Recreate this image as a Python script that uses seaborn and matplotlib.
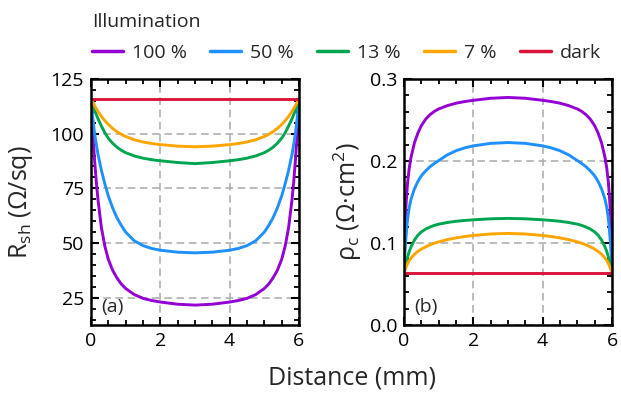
import numpy as np
import pandas as pd
import seaborn as sns
import matplotlib
matplotlib.use("Agg")
import matplotlib.pyplot as plt
from matplotlib.ticker import MultipleLocator, FormatStrFormatter

# ---------------- data ----------------
distance = [0, 0.025, 0.05, 0.1, 0.15, 0.2, 0.3, 0.4, 0.5, 0.625, 0.75, 0.875, 1.0, 1.25, 1.5, 1.75, 2.0, 2.5,
            3.0,
            3.5, 4.0, 4.25, 4.5, 4.75, 5.0, 5.125, 5.25, 5.375, 5.5, 5.6, 5.7, 5.8, 5.85, 5.9, 5.95, 5.975, 6.0]
levels = ["100 %", "50 %", "13 %", "7 %", "dark"]
colors = ["#9400D3", "#1E90FF", "#00A550", "#FFA500", "#DC143C"]

# sheet resistance R_sh (Ohm/sq)
rsh_100 = [116, 107.5, 100.5, 88.5, 78.5, 70, 57, 48.5, 42.5, 37.5, 34, 31.2, 29.2, 26.4, 24.7, 23.7, 23.0, 22.0,
           21.6,
           22.0, 23.0, 23.7, 24.7, 26.4, 29.2, 31.2, 34, 37.5, 42.5, 48.5, 57, 70, 78.5, 88.5, 100.5, 107.5, 116]
rsh_50 = [116, 111.5, 107.5, 100.5, 95.3, 90.7, 83.2, 77, 71.5, 66, 61.5, 58, 55, 51, 48.8, 47.5, 46.7, 45.8,
          45.5,
          45.8, 46.7, 47.5, 48.8, 51, 55, 58, 61.5, 66, 71.5, 77, 83.2, 90.7, 95.3, 100.5, 107.5, 111.5, 116]
rsh_13 = [116, 114.6, 113.3, 110.9, 108.8, 106.9, 103.5, 100.4, 97.9, 95.6, 93.8, 92.4, 91.3, 89.8, 88.8, 88.1, 87.6, 86.8,
          86.3,
          86.8, 87.6, 88.1, 88.8, 89.8, 91.3, 92.4, 93.8, 95.6, 97.9, 100.4, 103.5, 106.9, 108.8, 110.9, 113.3, 114.6, 116]
rsh_7 = [116, 115.2, 114.4, 112.9, 111.5, 110.2, 107.9, 105.9, 104.2, 102.4, 100.9, 99.7, 98.7, 97.2, 96.2, 95.5, 95.0, 94.3,
         94.0,
         94.3, 95.0, 95.5, 96.2, 97.2, 98.7, 99.7, 100.9, 102.4, 104.2, 105.9, 107.9, 110.2, 111.5, 112.9, 114.4, 115.2, 116]
rsh_dark = [116] * 37

# contact resistivity rho_c (Ohm cm^2)
rho_100 = [0.063, 0.118, 0.142, 0.172, 0.191, 0.204, 0.222, 0.234, 0.243, 0.251, 0.2565, 0.2605, 0.2635, 0.2675, 0.2705, 0.2725, 0.274, 0.2765,
           0.2775,
           0.2765, 0.274, 0.2725, 0.2705, 0.2675, 0.2635, 0.2605, 0.2565, 0.251, 0.243, 0.234, 0.222, 0.204, 0.191, 0.172, 0.142, 0.118, 0.063]
rho_50 = [0.063, 0.087, 0.103, 0.128, 0.143, 0.153, 0.166, 0.175, 0.182, 0.188, 0.193, 0.197, 0.2005, 0.2075, 0.2125, 0.216, 0.2185, 0.2215,
          0.2225,
          0.2215, 0.2185, 0.216, 0.2125, 0.2075, 0.2005, 0.197, 0.193, 0.188, 0.182, 0.175, 0.166, 0.153, 0.143, 0.128, 0.103, 0.087, 0.063]
rho_13 = [0.063, 0.069, 0.0735, 0.0825, 0.0895, 0.095, 0.1035, 0.1095, 0.1135, 0.117, 0.1195, 0.1215, 0.123, 0.125, 0.1265, 0.1275, 0.1283, 0.1295,
          0.130,
          0.1295, 0.1283, 0.1275, 0.1265, 0.125, 0.123, 0.1215, 0.1195, 0.117, 0.1135, 0.1095, 0.1035, 0.095, 0.0895, 0.0825, 0.0735, 0.069, 0.063]
rho_7 = [0.063, 0.0665, 0.0695, 0.0745, 0.0785, 0.0815, 0.0862, 0.0898, 0.0925, 0.0953, 0.0977, 0.0997, 0.1014, 0.1041, 0.1062, 0.1079, 0.1092, 0.1110,
         0.1117,
         0.1110, 0.1092, 0.1079, 0.1062, 0.1041, 0.1014, 0.0997, 0.0977, 0.0953, 0.0925, 0.0898, 0.0862, 0.0815, 0.0785, 0.0745, 0.0695, 0.0665, 0.063]
rho_dark = [0.063] * 37

rsh_series = [rsh_100, rsh_50, rsh_13, rsh_7, rsh_dark]
rho_series = [rho_100, rho_50, rho_13, rho_7, rho_dark]

rows = []
for lev, rs, rh in zip(levels, rsh_series, rho_series):
    for d, a, b in zip(distance, rs, rh):
        rows.append({"Distance": d, "Rsh": a, "rho": b, "Illumination": lev})
df = pd.DataFrame(rows)

# ---------------- style ----------------
sns.set_theme(style="ticks")
FONT = "Open Sans"
plt.rcParams["font.family"] = [FONT, "DejaVu Sans"]
plt.rcParams["mathtext.fontset"] = "custom"
plt.rcParams["mathtext.rm"] = FONT
plt.rcParams["mathtext.it"] = FONT + ":italic"
plt.rcParams["mathtext.default"] = "regular"

fig = plt.figure(figsize=(6.21, 4.01), dpi=100)
W, H = 621, 401
ax1 = fig.add_axes([91 / W, 1 - 325 / H, 208 / W, 246 / H])
ax2 = fig.add_axes([404 / W, 1 - 325 / H, 208 / W, 246 / H])

palette = dict(zip(levels, colors))
sns.lineplot(data=df, x="Distance", y="Rsh", hue="Illumination", hue_order=levels,
             palette=palette, estimator=None, sort=False, lw=2.1, ax=ax1, legend=True)
sns.lineplot(data=df, x="Distance", y="rho", hue="Illumination", hue_order=levels,
             palette=palette, estimator=None, sort=False, lw=2.1, ax=ax2, legend=False)

handles, labels = ax1.get_legend_handles_labels()
ax1.get_legend().remove()

for ax in (ax1, ax2):
    ax.set_xlim(0, 6)
    ax.xaxis.set_major_locator(MultipleLocator(2))
    ax.xaxis.set_minor_locator(MultipleLocator(0.5))
    ax.grid(True, which="major", ls=(0, (5, 3)), color="#AAAAAA", lw=1.1)
    ax.set_axisbelow(True)
    ax.tick_params(which="both", direction="in", top=True, right=True,
                   colors="black", width=1.5, labelsize=14, pad=5)
    ax.tick_params(which="major", length=6)
    ax.tick_params(which="minor", length=3.5, width=1.3)
    for s in ax.spines.values():
        s.set_linewidth(1.8)
        s.set_color("black")
    ax.set_xlabel("")

ax1.set_ylim(12.5, 125)
ax1.yaxis.set_major_locator(MultipleLocator(25))
ax1.yaxis.set_minor_locator(MultipleLocator(5))
ax1.set_ylabel("R$_{sh}$ (Ω/sq)", fontsize=18)
ax1.yaxis.set_label_coords((35 - 91) / 208, 0.5)

ax2.set_ylim(0, 0.3)
ax2.yaxis.set_major_locator(MultipleLocator(0.1))
ax2.yaxis.set_minor_locator(MultipleLocator(0.02))
ax2.yaxis.set_major_formatter(FormatStrFormatter("%.1f"))
ax2.set_ylabel("ρ$_{c}$ (Ω·cm$^{2}$)", fontsize=18)
ax2.yaxis.set_label_coords((364 - 404) / 208, 0.5)

ax1.text(0.05, 0.035, "(a)", transform=ax1.transAxes, fontsize=14, ha="left", va="bottom")
ax2.text(0.05, 0.035, "(b)", transform=ax2.transAxes, fontsize=14, ha="left", va="bottom")

fig.text(351.5 / W, 1 - 378 / H, "Distance (mm)", fontsize=18, ha="center", va="center")

leg = fig.legend(handles, labels, title="Illumination", loc="upper left",
                 bbox_to_anchor=(92 / W, 1 - 13 / H), ncol=5, frameon=False,
                 fontsize=14, title_fontsize=14, handlelength=1.6, handletextpad=0.45,
                 columnspacing=1.2, borderpad=0, borderaxespad=0, labelspacing=0.65,
                 alignment="left")
for lh in leg.get_lines():
    lh.set_linewidth(2.5)

fig.savefig("out.png", dpi=100)
